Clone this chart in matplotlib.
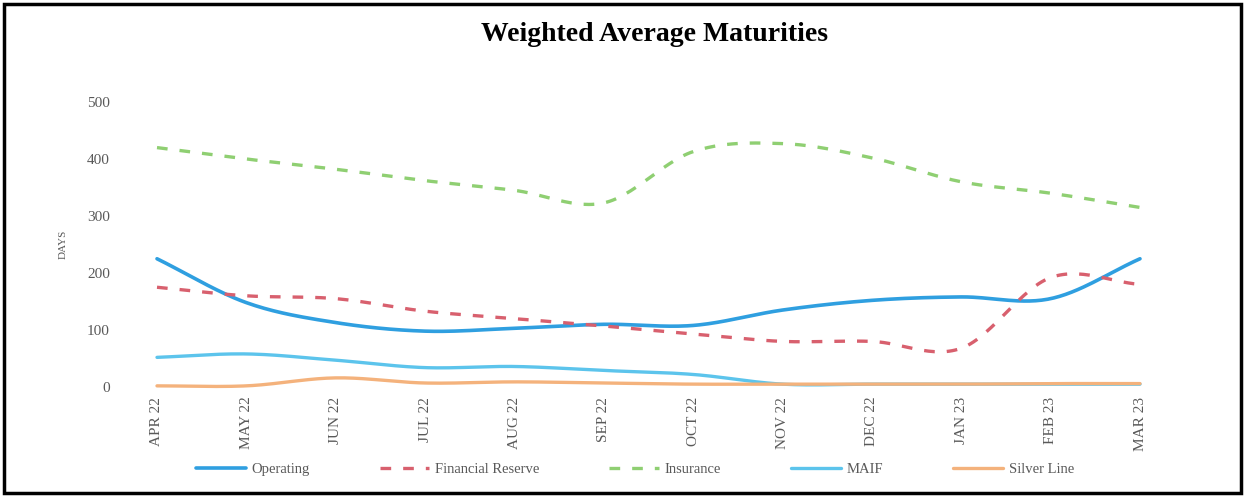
import numpy as np
import matplotlib.pyplot as plt
from matplotlib.patches import Rectangle

months = ['APR 22', 'MAY 22', 'JUN 22', 'JUL 22', 'AUG 22', 'SEP 22',
          'OCT 22', 'NOV 22', 'DEC 22', 'JAN 23', 'FEB 23', 'MAR 23']

operating = [225, 148, 113, 98, 103, 110, 108, 135, 152, 158, 155, 225]
financial_reserve = [175, 160, 155, 133, 120, 107, 93, 80, 80, 68, 192, 180]
insurance = [420, 400, 382, 362, 345, 323, 413, 427, 402, 360, 340, 315]
maif = [52, 58, 47, 34, 36, 29, 22, 5, 5, 5, 5, 5]
silver_line = [2, 2, 16, 7, 9, 7, 5, 5, 5, 5, 6, 6]


def smooth(y, n=30):
    """Catmull-Rom spline through the points, like Excel's smoothed line."""
    y = np.asarray(y, dtype=float)
    p = np.concatenate([[2 * y[0] - y[1]], y, [2 * y[-1] - y[-2]]])
    xs, ys = [], []
    for i in range(len(y) - 1):
        p0, p1, p2, p3 = p[i], p[i + 1], p[i + 2], p[i + 3]
        t = np.linspace(0, 1, n, endpoint=False)
        m1 = (p2 - p0) / 2
        m2 = (p3 - p1) / 2
        h00 = 2 * t**3 - 3 * t**2 + 1
        h10 = t**3 - 2 * t**2 + t
        h01 = -2 * t**3 + 3 * t**2
        h11 = t**3 - t**2
        xs.append(i + t)
        ys.append(h00 * p1 + h10 * m1 + h01 * p2 + h11 * m2)
    xs.append([len(y) - 1])
    ys.append([y[-1]])
    return np.concatenate(xs), np.concatenate(ys)


plt.rcParams['font.family'] = ['Liberation Serif', 'DejaVu Serif']

fig = plt.figure(figsize=(12.45, 4.97), dpi=100)
ax = fig.add_axes([157 / 1245, 110 / 497, 983 / 1245, 285 / 497])

series = [
    ('Operating', operating, '#2f9fe0', '-', 2.6),
    ('Financial Reserve', financial_reserve, '#d8606e', '--', 2.4),
    ('Insurance', insurance, '#8fcf72', '--', 2.4),
    ('MAIF', maif, '#5cc4ec', '-', 2.4),
    ('Silver Line', silver_line, '#f4b27c', '-', 2.4),
]

for name, vals, color, ls, lw in series:
    sx, sy = smooth(vals)
    line, = ax.plot(sx, sy, color=color, linestyle=ls, linewidth=lw,
                    label=name, clip_on=False, solid_capstyle='round')
    if ls == '--':
        line.set_dashes((3.2, 3.6))

ax.set_xlim(0, 11)
ax.set_ylim(0, 500)
ax.set_yticks(range(0, 501, 100))
ax.set_xticks(range(len(months)))
ax.set_xticklabels(months, rotation=90)
ax.tick_params(axis='both', length=0, colors='#595959')
ax.tick_params(axis='y', pad=34, labelsize=11)
ax.tick_params(axis='x', pad=7, labelsize=11)
for s in ax.spines.values():
    s.set_visible(False)
ax.set_ylabel('DAYS', fontsize=8, color='#595959', labelpad=14)

fig.text(0.526, 0.93, 'Weighted Average Maturities', ha='center', va='center',
         fontsize=20, fontweight='bold')

fig.legend(loc='center', bbox_to_anchor=(0.51, 0.056), ncol=5, frameon=False,
           fontsize=10.5, handlelength=3.4, columnspacing=4.8,
           labelcolor='#595959', handletextpad=0.4)

fig.patches.append(Rectangle((0.003, 0.008), 0.994, 0.984, transform=fig.transFigure,
                             fill=False, edgecolor='black', linewidth=2.5))

fig.savefig('out.png', dpi=100)
